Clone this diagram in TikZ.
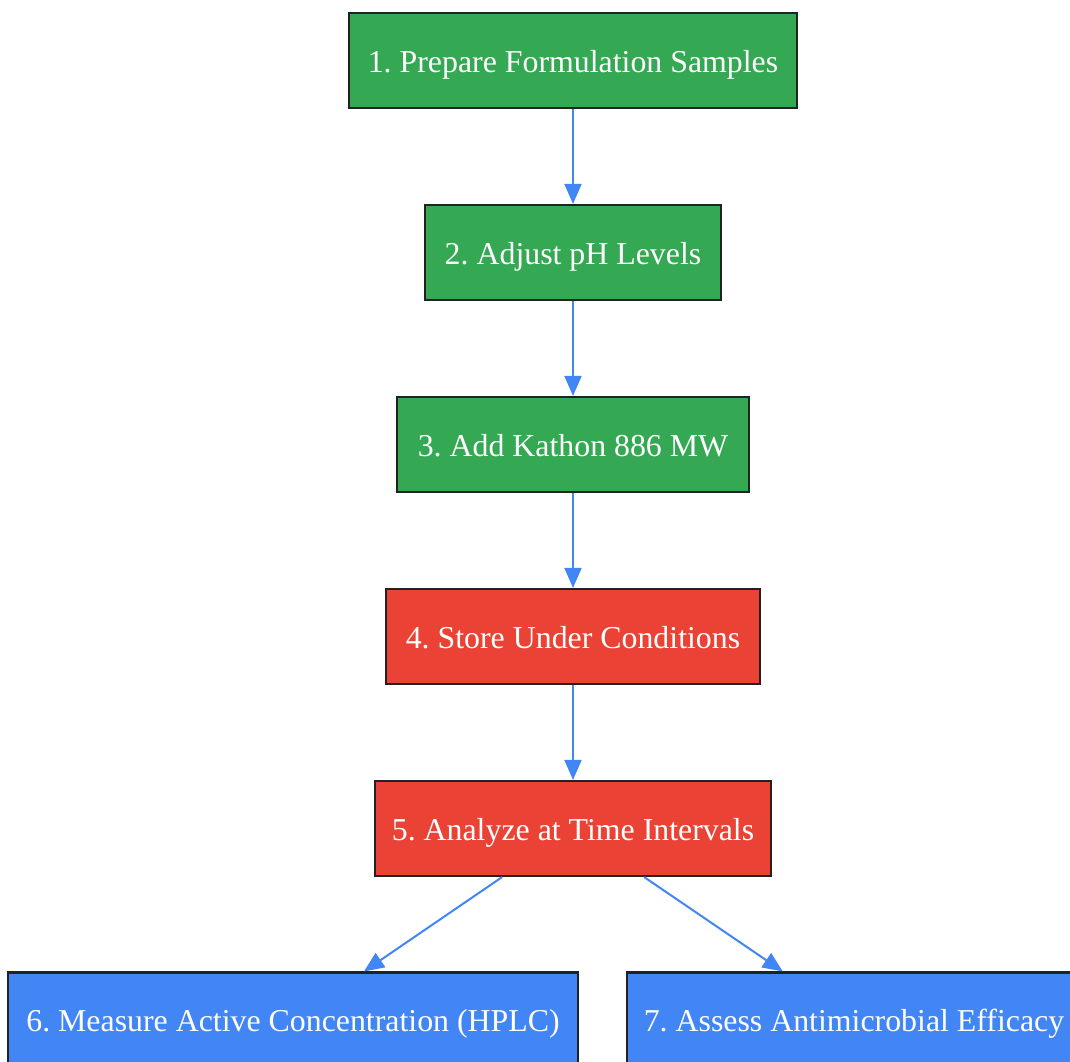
\documentclass[tikz,border=0pt]{standalone}
\usepackage{fontspec}
\setmainfont{Liberation Serif}
\usetikzlibrary{arrows.meta}
\definecolor{stepgreen}{HTML}{34A853}
\definecolor{stepred}{HTML}{EA4335}
\definecolor{stepblue}{HTML}{4285F4}
\definecolor{boxline}{HTML}{222222}
\frenchspacing
\begin{document}
\begin{tikzpicture}[x=1pt,y=-1pt,
  box/.style={draw=boxline, line width=2.2pt, minimum height=95pt, inner xsep=10pt, text height=23.4pt, text depth=0pt, text=white, font=\fontsize{31.85}{40}\selectfont},
  flow/.style={draw=stepblue, line width=2pt, -{Triangle[length=20pt,width=17pt]}}]
\useasboundingbox (0,0) rectangle (1070,1061);
\clip (0,0) rectangle (1070,1061);
\node[box, fill=stepgreen, minimum width=448pt] (n1) at (573,60.5) {1. Prepare Formulation Samples};
\node[box, fill=stepgreen, minimum width=296pt] (n2) at (573,252.5) {2. Adjust pH Levels};
\node[box, fill=stepgreen, minimum width=352pt] (n3) at (573,444.5) {3. Add Kathon 886 MW};
\node[box, fill=stepred, minimum width=374pt] (n4) at (573,636.5) {4. Store Under Conditions};
\node[box, fill=stepred, minimum width=396pt] (n5) at (573,828.5) {5. Analyze at Time Intervals};
\node[box, fill=stepblue, minimum width=570pt] (n6) at (293,1020) {6. Measure Active Concentration (HPLC)};
\node[box, fill=stepblue, minimum width=454pt] (n7) at (854,1020) {7. Assess Antimicrobial Efficacy};
\draw[flow] (n1) -- (n2);
\draw[flow] (n2) -- (n3);
\draw[flow] (n3) -- (n4);
\draw[flow] (n4) -- (n5);
\draw[flow] (n5) -- (n6);
\draw[flow] (n5) -- (n7);
\end{tikzpicture}
\end{document}
